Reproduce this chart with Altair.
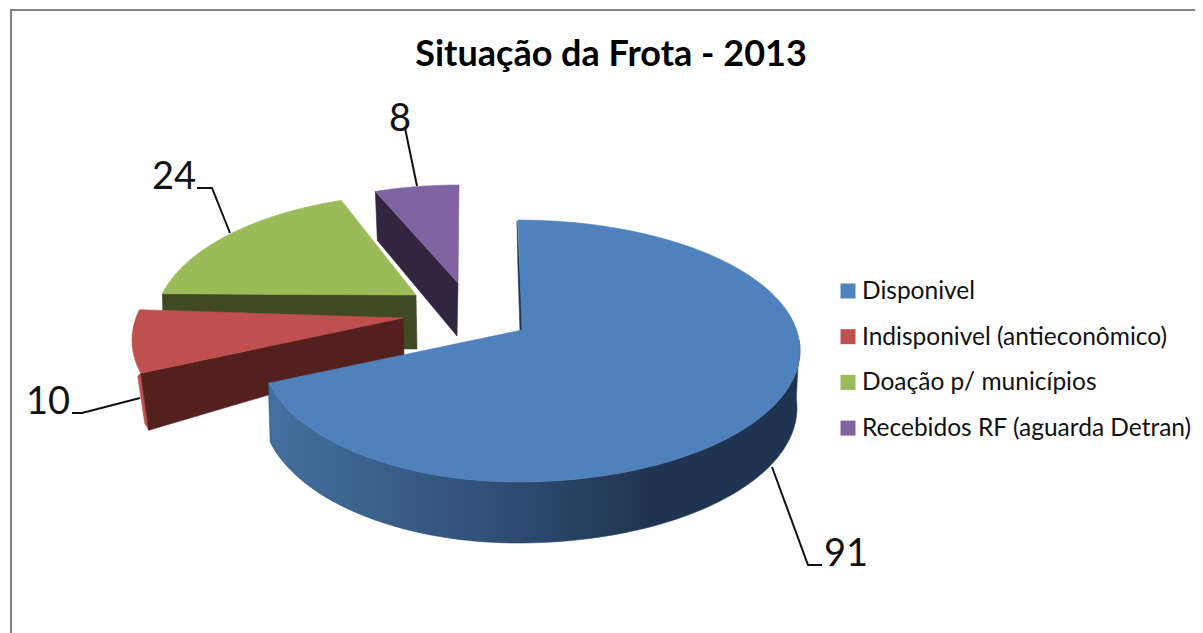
import numpy as np
import pandas as pd
import altair as alt

# ---- values
categories = ["Disponivel", "Indisponivel (antieconômico)", "Doação p/ municípios", "Recebidos RF (aguarda Detran)"]
values = [91, 10, 24, 8]
title_text = "Situação da Frota - 2013"

# ---- styles
top_colors = ["#4f81bd", "#c0504d", "#9bbb59", "#8064a2"]
wall_colors = ["#1f3650", "#54201e", "#3f4a22", "#32253f"]

# ---- the pie: slice angles come from the values; the rest fakes Excel's perspective
W, H = 1187, 625
share = np.array(values) / sum(values) * 360
ends = np.cumsum(share)
starts = ends - share


def warp(phi):
    return np.interp(phi, [0, 246.3, 273.4, 338.4, 360], [0, 255.4, 283.5, 342, 360])


# centre of rim ellipse, apex, semi-axes (left, right, top, bottom)
geom = [
    dict(c=(518, 350), apex=(522, 330), al=258, ar=282, bt=130, bb=132),
    dict(c=(403, 340), apex=(403, 318), al=271, ar=271, bt=130, bb=132),
    dict(c=(425, 324), apex=(416, 295), al=270, ar=270, bt=130, bb=132),
    dict(c=(459, 315), apex=(458, 283), al=270, ar=270, bt=130, bb=132),
]


def rim(g, t_deg):
    t = np.radians(t_deg)
    s, c = np.sin(t), np.cos(t)
    x = g["c"][0] + np.where(s >= 0, g["ar"], g["al"]) * s
    y = g["c"][1] - np.where(c >= 0, g["bt"], g["bb"]) * c
    return np.column_stack([x, y])


XS = alt.Scale(domain=[8, 8 + W], range=[0, W], nice=False, zero=False)
YS = alt.Scale(domain=[8 + H, 8], range=[H, 0], nice=False, zero=False)
X = alt.X("x:Q", scale=XS, axis=None)
Y = alt.Y("y:Q", scale=YS, axis=None)


def shape(pts, fill, stroke=None):
    pts = np.asarray(pts, dtype=float)
    pts = np.vstack([pts, pts[:1]])
    df = pd.DataFrame({"x": pts[:, 0], "y": pts[:, 1], "i": np.arange(len(pts))})
    return alt.Chart(df).mark_line(fill=fill, stroke=stroke or fill, strokeWidth=0.6).encode(x=X, y=Y, order="i:Q")


def polyline(pts, color="#111111", width=2):
    pts = np.asarray(pts, dtype=float)
    df = pd.DataFrame({"x": pts[:, 0], "y": pts[:, 1], "i": np.arange(len(pts))})
    return alt.Chart(df).mark_line(stroke=color, strokeWidth=width).encode(x=X, y=Y, order="i:Q")


def top(i):
    g = geom[i]
    ts = np.linspace(warp(starts[i]), warp(ends[i]), 90)
    return shape(np.vstack([[g["apex"]], rim(g, ts)]), top_colors[i])


def cut_wall(i, t, drop_rim, drop_apex):
    g = geom[i]
    r = rim(g, np.array([t]))[0]
    a = np.array(g["apex"], float)
    return shape([r, a, a + drop_apex, r + drop_rim], wall_colors[i])


t_red, t_green, t_purple = warp(starts[1]), warp(starts[2]), warp(starts[3])
r_red = rim(geom[1], np.array([t_red]))[0]

# blue outer wall: upper rim and a lower rim of its own
g0 = geom[0]
tw = np.linspace(86, warp(ends[0]), 120)
upper = rim(g0, tw)
gl = dict(c=(518, 408), apex=(0, 0), al=256, ar=279, bt=135, bb=135)
lower = rim(gl, tw[::-1])
blue_gradient = alt.Gradient(
    gradient="linear", x1=1, x2=0, y1=0, y2=0,
    stops=[
        alt.GradientStop(color="#1e3450", offset=0),
        alt.GradientStop(color="#1f3450", offset=0.28),
        alt.GradientStop(color="#2e4d74", offset=0.55),
        alt.GradientStop(color="#44709f", offset=1),
    ],
)

layers = [
    cut_wall(2, t_green, (1, 54), (1, 54)),
    top(2),
    cut_wall(3, t_purple, (2, 49), (-1, 53)),
    top(3),
    shape([r_red, r_red + (8, 57), r_red + (4, 50), r_red + (-3, 3)], top_colors[1]),
    cut_wall(1, t_red, (8, 57), (1, 37)),
    top(1),
    shape(np.vstack([upper, lower]), blue_gradient, stroke="#2a4666"),
    shape([(517, 221), (518, 270), (520, 331), (523, 331)], wall_colors[0]),
    top(0),
    # leader lines
    polyline([(772, 467), (808, 565), (822, 565)]),
    polyline([(72, 413), (82, 413), (140, 398)]),
    polyline([(197, 188), (212, 188), (230, 233)]),
    polyline([(405, 128), (417, 186)]),
    # frame
    polyline([(11, 633), (11, 10), (1203, 10)], color="#808080", width=2),
]

# data labels
label_df = pd.DataFrame({"v": [str(v) for v in values], "x": [846, 48, 174, 400], "y": [555, 403, 178, 120]})
layers.append(
    alt.Chart(label_df)
    .mark_text(font="Lato", fontSize=38, color="#111111", align="center", baseline="middle")
    .encode(x=X, y=Y, text="v:N")
)

# title
title_df = pd.DataFrame({"t": [title_text], "x": [611], "y": [55]})
layers.append(
    alt.Chart(title_df)
    .mark_text(font="Lato", fontSize=36, fontWeight="bold", color="#000000", align="center", baseline="middle")
    .encode(x=X, y=Y, text="t:N")
)

# legend
leg = pd.DataFrame({"name": categories, "col": top_colors, "k": range(4)})
leg["y"] = 291 + leg["k"] * 45.7
leg["x"] = 848
leg_text = leg.copy()
leg_text["x"] = 862
leg_text["y"] = leg["y"] + 1
layers.append(
    alt.Chart(leg)
    .mark_square(size=225, opacity=1, filled=True)
    .encode(x=X, y=Y, color=alt.Color("col:N", scale=None))
)
layers.append(
    alt.Chart(leg_text)
    .mark_text(font="Lato", fontSize=24.5, color="#111111", align="left", baseline="middle")
    .encode(x=X, y=Y, text="name:N")
)

chart = (
    alt.layer(*layers)
    .properties(width=W, height=H, padding=0, autosize=alt.AutoSizeParams(type="none"), background="white")
    .configure_view(stroke=None)
)
chart.save("out.html", embed_options={"renderer": "svg", "actions": False})
